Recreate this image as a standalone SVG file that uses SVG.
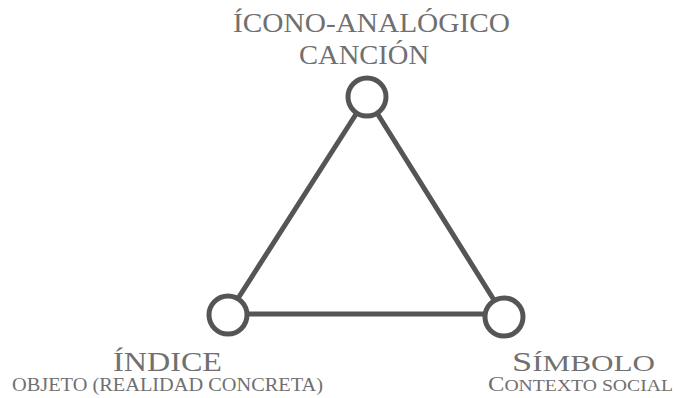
<svg xmlns="http://www.w3.org/2000/svg" width="676" height="398" viewBox="0 0 676 398">
<style>
.edge{stroke:#555;stroke-width:5;fill:none;stroke-linecap:round}
.node{fill:#fff;stroke:#555;stroke-width:5}
.t{font-family:"Liberation Serif","DejaVu Serif",serif;fill:#707070;text-anchor:start}
</style>
<rect width="676" height="398" fill="#fff"/>
<g id="connectors">
<line class="edge" x1="367" y1="97" x2="228" y2="314"/>
<line class="edge" x1="367" y1="97" x2="504" y2="316"/>
<line class="edge" x1="228" y1="314" x2="504" y2="314"/>
</g>
<g id="node-icono">
<circle class="node" cx="367" cy="97" r="19"/>
<text class="t" x="233" y="32" font-size="28" textLength="277" lengthAdjust="spacingAndGlyphs">ÍCONO-ANALÓGICO</text>
<text class="t" x="299" y="64" font-size="28" textLength="130" lengthAdjust="spacingAndGlyphs">CANCIÓN</text>
</g>
<g id="node-indice">
<circle class="node" cx="228" cy="315" r="19"/>
<text class="t" x="113" y="371" font-size="27" textLength="109" lengthAdjust="spacingAndGlyphs">ÍNDICE</text>
<text class="t" x="12" y="391" font-size="18" textLength="311" lengthAdjust="spacingAndGlyphs">OBJETO (REALIDAD CONCRETA)</text>
</g>
<g id="node-simbolo">
<circle class="node" cx="504" cy="317" r="19"/>
<text class="t" x="512" y="371" font-size="28" textLength="143" lengthAdjust="spacingAndGlyphs">S<tspan font-size="24">ÍMBOLO</tspan></text>
<text class="t" x="488" y="391" font-size="20" textLength="185" lengthAdjust="spacingAndGlyphs">C<tspan font-size="16">ONTEXTO SOCIAL</tspan></text>
</g>
</svg>
